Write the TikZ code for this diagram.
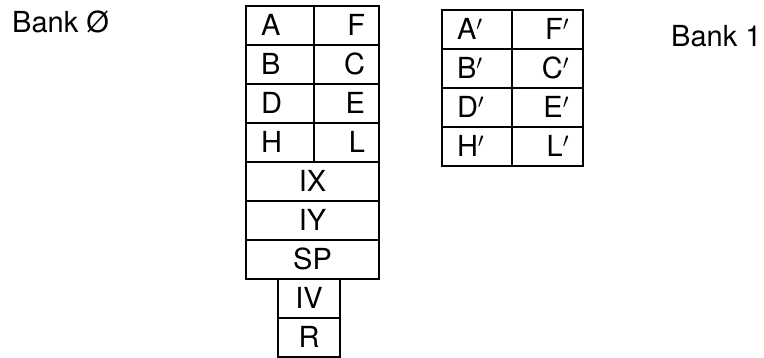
\documentclass[tikz,border=0pt]{standalone}
\usepackage{fontspec}
\setmainfont{TeX Gyre Heros}

\begin{document}
\begin{tikzpicture}[x=1pt, y=-1pt,
    every node/.style={font=\fontsize{29}{32}\selectfont},
    reg/.style={draw, line width=1.4pt, outer sep=0pt, anchor=north west, minimum height=39pt, inner ysep=0pt, text height=20.5pt, text depth=0pt},
    regl/.style={reg, inner xsep=15pt, text width=#1, align=left},
    regr/.style={reg, inner xsep=14pt, text width=#1, align=right},
    regc/.style={reg, inner xsep=0pt, minimum width=#1}]
    % Page frame
    \useasboundingbox (0,0) rectangle (764,357);

    % Bank 0: main register pairs
    \node[regl=38pt] (A) at (246,6)   {A};
    \node[regr=37pt] (F) at (314,6)   {F};
    \node[regl=38pt] (B) at (246,45)  {B};
    \node[regr=37pt] (C) at (314,45)  {C};
    \node[regl=38pt] (D) at (246,84)  {D};
    \node[regr=37pt] (E) at (314,84)  {E};
    \node[regl=38pt] (H) at (246,123) {H};
    \node[regr=37pt] (L) at (314,123) {L};
    % Index registers and stack pointer
    \node[regc=133pt] (IX) at (246,162) {IX};
    \node[regc=133pt] (IY) at (246,201) {IY};
    \node[regc=133pt] (SP) at (246,240) {SP};
    % Interrupt vector and refresh
    \node[regc=62pt] (IV) at (278,279) {IV};
    \node[regc=62pt] (R)  at (278,318) {R};

    % Bank 1: alternate register pairs
    \node[regl=40pt] (Ap) at (442,10)  {A$'$};
    \node[regr=43pt] (Fp) at (512,10)  {F$'$};
    \node[regl=40pt] (Bp) at (442,49)  {B$'$};
    \node[regr=43pt] (Cp) at (512,49)  {C$'$};
    \node[regl=40pt] (Dp) at (442,88)  {D$'$};
    \node[regr=43pt] (Ep) at (512,88)  {E$'$};
    \node[regl=40pt] (Hp) at (442,127) {H$'$};
    \node[regr=43pt] (Lp) at (512,127) {L$'$};

    % Bank labels
    \node[anchor=west, inner sep=0pt] (bank0) at (12,22) {Bank Ø};
    \node[anchor=west, inner sep=0pt] (bank1) at (671,36) {Bank 1};
\end{tikzpicture}
\end{document}
